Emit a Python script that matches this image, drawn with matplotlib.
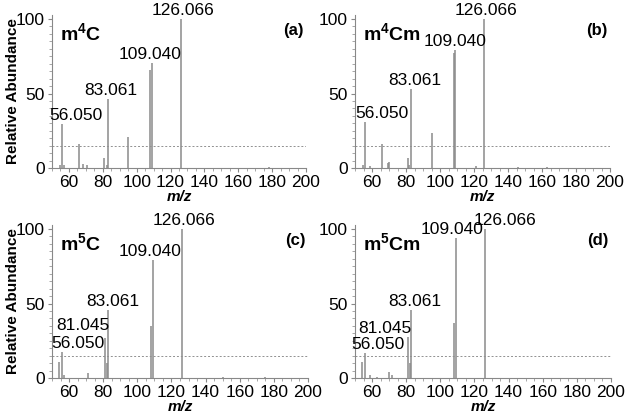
import matplotlib.pyplot as plt
from matplotlib.ticker import MultipleLocator

plt.rcParams['font.family'] = ['Liberation Sans', 'DejaVu Sans']
plt.rcParams['mathtext.fontset'] = 'custom'
plt.rcParams['mathtext.rm'] = 'Liberation Sans'
plt.rcParams['mathtext.bf'] = 'Liberation Sans:bold'

# datos de los espectros (m/z, abundancia relativa)
mz_a = [54.5, 56.05, 57.2, 66.05, 68.1, 70.5, 81.0, 82.3, 83.061, 95.1, 108.04, 109.04, 126.066, 178.0]
ab_a = [2, 29.5, 2, 16, 3, 2, 6.5, 2, 46, 20.8, 65.5, 70.5, 100, 1]

mz_b = [54.5, 56.05, 59.0, 66.05, 69.3, 70.0, 81.0, 82.0, 83.061, 95.1, 108.04, 109.04, 121.0, 126.066, 146.0, 163.0]
ab_b = [2, 31, 1.5, 16, 3.5, 4, 7, 2, 53, 23.7, 77, 79, 1.5, 100, 1, 1]

mz_c = [54.3, 56.05, 57.0, 71.1, 81.045, 82.05, 83.061, 108.04, 109.04, 126.066, 150.0, 175.0]
ab_c = [10.9, 17.7, 2, 3.5, 27, 10, 45.6, 35, 79, 100, 1, 1]

mz_d = [54.3, 56.05, 59.0, 63.0, 70.0, 71.5, 81.045, 82.05, 83.061, 108.04, 109.04, 126.066]
ab_d = [10.5, 16.6, 2, 1, 4, 2, 27.7, 10, 45.6, 36.7, 94, 100]

etiquetas_a = ['56.050', '83.061', '109.040', '126.066']
etiquetas_b = ['56.050', '83.061', '109.040', '126.066']
etiquetas_c = ['56.050', '81.045', '83.061', '109.040', '126.066']
etiquetas_d = ['56.050', '81.045', '83.061', '109.040', '126.066']

nombres = [('m', '4', 'C'), ('m', '4', 'Cm'), ('m', '5', 'C'), ('m', '5', 'Cm')]
letras = ['(a)', '(b)', '(c)', '(d)']
umbral = 15

# desplazamientos de las etiquetas en pixeles (dx, dy)
despl = [
    {'56.050': (14, 0), '83.061': (3, 0), '109.040': (-2, 0), '126.066': (2, 0)},
    {'56.050': (17, 0), '83.061': (4, 0), '109.040': (0, 0), '126.066': (2, 0)},
    {'56.050': (16, 0), '81.045': (-22, 4), '83.061': (4, 0), '109.040': (-3, 0), '126.066': (2, 0)},
    {'56.050': (13, 0), '81.045': (-23, 0), '83.061': (3, 0), '109.040': (-4, 0), '126.066': (20, 0)},
]

fig = plt.figure(figsize=(6.32, 4.18), dpi=100)
W, H = 632, 418
cajas = [(52, 15, 254), (355, 15, 255), (52, 225, 256), (355, 225, 256)]
datos = [(mz_a, ab_a, etiquetas_a), (mz_b, ab_b, etiquetas_b),
         (mz_c, ab_c, etiquetas_c), (mz_d, ab_d, etiquetas_d)]

gris = '#8a8a8a'
for i, ((x0, y0, w), (mz, ab, etq)) in enumerate(zip(cajas, datos)):
    h = 153
    ax = fig.add_axes([x0 / W, 1 - (y0 + h) / H, w / W, h / H])
    ax.vlines(mz, 0, ab, color=gris, lw=1.1)
    ax.axhline(umbral, color='#909090', ls=(0, (2, 2)), lw=0.7)
    ax.set_xlim(50, 200)
    ax.set_ylim(0, 102.7)
    for s in ['top', 'right']:
        ax.spines[s].set_visible(False)
    for s in ['left', 'bottom']:
        ax.spines[s].set_color('#888888')
        ax.spines[s].set_linewidth(0.8)
    ax.set_xticks(range(60, 201, 20))
    ax.set_yticks([0, 50, 100])
    ax.xaxis.set_minor_locator(MultipleLocator(5))
    ax.yaxis.set_minor_locator(MultipleLocator(5))
    ax.tick_params(which='major', length=3, color='#888888', labelsize=12.5, pad=2)
    ax.tick_params(which='minor', length=2, color='#999999', width=0.6)

    for e in etq:
        v = float(e)
        j = min(range(len(mz)), key=lambda k: abs(mz[k] - v))
        dx, dy = despl[i][e]
        ax.annotate(e, (mz[j], ab[j]), xytext=(dx, dy + 1), textcoords='offset pixels',
                    ha='center', va='bottom', fontsize=12.5)

    a, sup, b = nombres[i]
    ax.text(0.03, 0.88, r'$\mathbf{%s}^{\mathbf{%s}}\mathbf{%s}$' % (a, sup, b),
            transform=ax.transAxes, fontsize=14, va='center', ha='left')
    ax.text(0.99, 0.90, letras[i], transform=ax.transAxes, fontsize=12,
            fontweight='bold', va='center', ha='right')
    ax.set_xlabel('m/z', fontsize=11, fontweight='bold', style='italic', labelpad=0)
    if i % 2 == 0:
        fig.text(13 / W, 1 - (y0 + h / 2) / H, 'Relative Abundance', rotation=90,
                 fontsize=11, fontweight='bold', ha='center', va='center')

plt.savefig('out.png', dpi=100)
